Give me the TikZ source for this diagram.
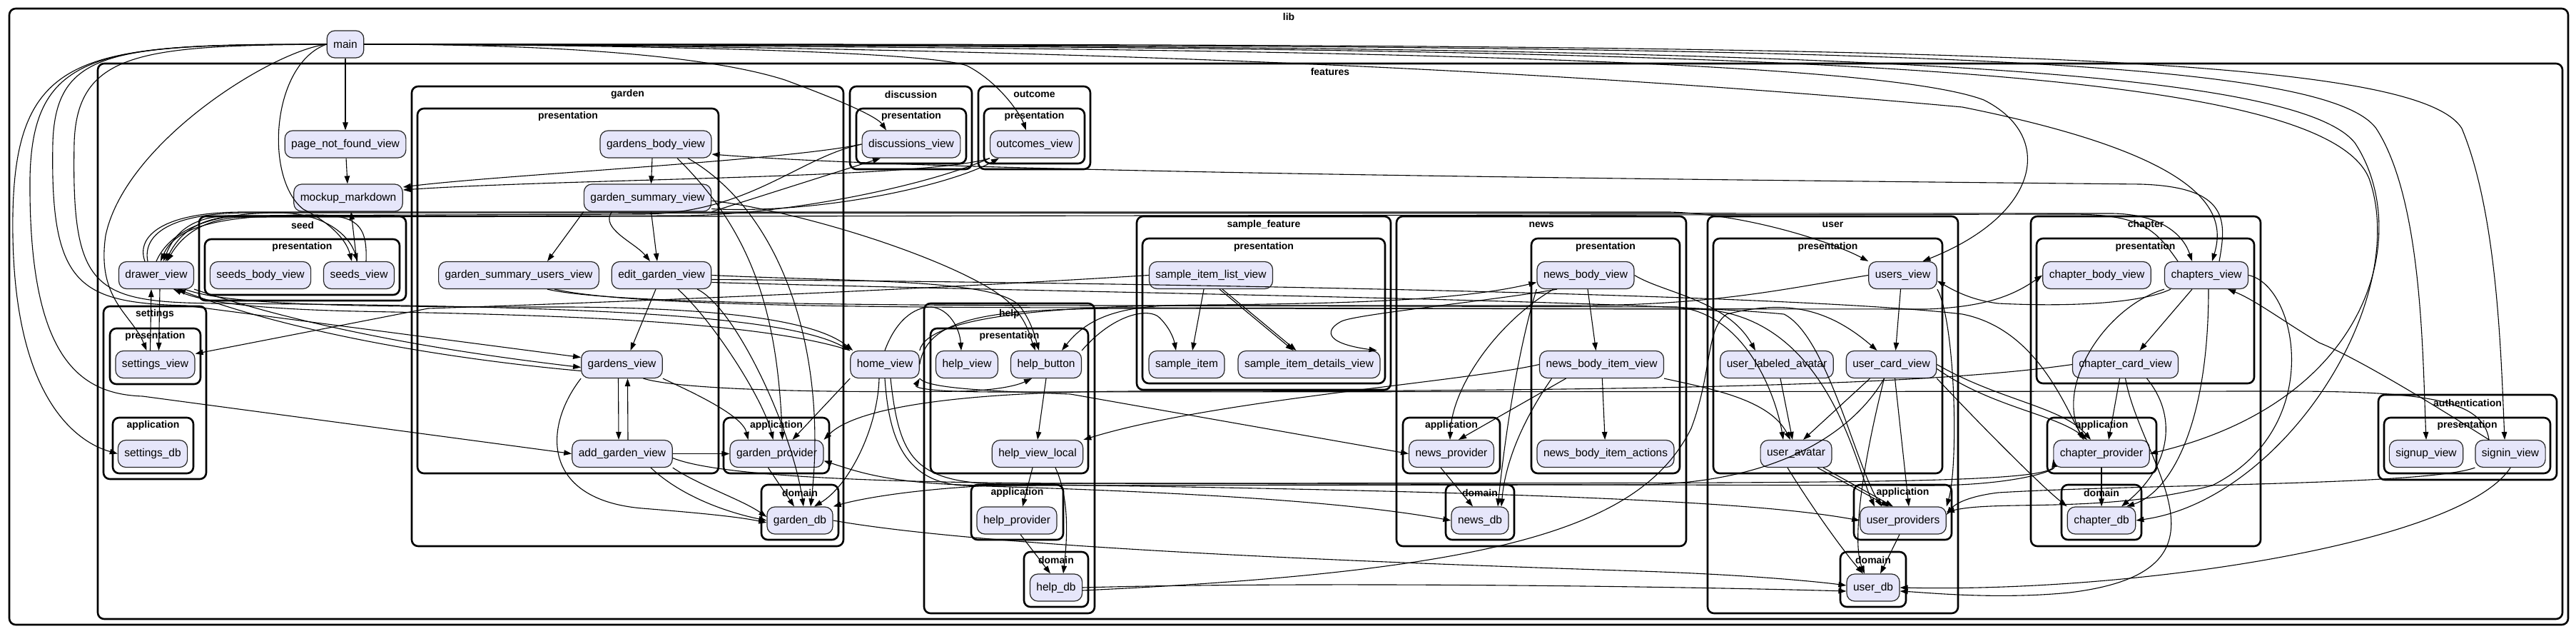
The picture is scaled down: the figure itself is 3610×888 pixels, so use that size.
\documentclass[tikz,border=0pt]{standalone}
\usepackage{fontspec}
\setmainfont{Liberation Sans}
\usetikzlibrary{arrows.meta}
\definecolor{lav}{HTML}{E6E6FA}
\begin{document}
\begin{tikzpicture}[x=1pt,y=-1pt,
 nd/.style={draw=black!85, line width=1.2pt, fill=lav, rounded corners=11pt, minimum height=38pt, inner xsep=9pt, inner ysep=0pt, font=\fontsize{15.5}{18}\selectfont},
 cl/.style={draw, line width=2.6pt, rounded corners=9pt},
 cll/.style={font=\bfseries\fontsize{14}{16}\selectfont, inner sep=0pt},
 e/.style={line width=1.1pt, -{Triangle[length=11pt,width=7.5pt]}},
]
\fill[white] (0,0) rectangle (3610,888);
\useasboundingbox (0,0) rectangle (3610,888);
% clusters
\draw[cl] (13,12) rectangle (3599,875); \node[cll] (Llib) at (1806,23) {lib};
\draw[cl] (137,89) rectangle (3591,867); \node[cll] (Lfeat) at (1864,100) {features};
\draw[cl] (577,121) rectangle (1182,765); \node[cll] (Lgarden) at (879.5,132) {garden};
\draw[cl] (585,152) rectangle (1007,663); \node[cll] (Lgardenpres) at (796,163) {presentation};
\draw[cl] (1014,585) rectangle (1162,663); \node[cll] (Lgardenapp) at (1088,596) {application};
\draw[cl] (1067,679) rectangle (1175,756); \node[cll] (Lgardendom) at (1121,690) {domain};
\draw[cl] (279,303) rectangle (569,421); \node[cll] (Lseed) at (424,315) {seed};
\draw[cl] (287,335) rectangle (560,413); \node[cll] (Lseedpres) at (423.5,346) {presentation};
\draw[cl] (145,429) rectangle (289,671); \node[cll] (Lsettings) at (217,440) {settings};
\draw[cl] (154,460) rectangle (281,538); \node[cll] (Lsetpres) at (217.5,471) {presentation};
\draw[cl] (158,585) rectangle (271,663); \node[cll] (Lsetapp) at (214.5,596) {application};
\draw[cl] (1191,121) rectangle (1362,237); \node[cll] (Ldisc) at (1276.5,132) {discussion};
\draw[cl] (1200,152) rectangle (1354,229); \node[cll] (Ldiscpres) at (1277,163) {presentation};
\draw[cl] (1371,121) rectangle (1528,237); \node[cll] (Lout) at (1449.5,132) {outcome};
\draw[cl] (1379,152) rectangle (1520,229); \node[cll] (Loutpres) at (1449.5,163) {presentation};
\draw[cl] (1295,425) rectangle (1534,859); \node[cll] (Lhelp) at (1414.5,440) {help};
\draw[cl] (1304,460) rectangle (1525,663); \node[cll] (Lhelppres) at (1414.5,471) {presentation};
\draw[cl] (1361,679) rectangle (1490,756); \node[cll] (Lhelpapp) at (1425.5,690) {application};
\draw[cl] (1435,773) rectangle (1525,850); \node[cll] (Lhelpdom) at (1480,784) {domain};
\draw[cl] (1593,303) rectangle (1949,546); \node[cll] (Lsample) at (1771,315) {sample\_feature};
\draw[cl] (1601,334) rectangle (1941,537); \node[cll] (Lsamplepres) at (1771,346) {presentation};
\draw[cl] (1957,303) rectangle (2363,765); \node[cll] (Lnews) at (2160,315) {news};
\draw[cl] (2146,334) rectangle (2354,663); \node[cll] (Lnewspres) at (2250,346) {presentation};
\draw[cl] (1966,585) rectangle (2102,663); \node[cll] (Lnewsapp) at (2034,596) {application};
\draw[cl] (2026,679) rectangle (2122,756); \node[cll] (Lnewsdom) at (2074,690) {domain};
\draw[cl] (2393,303) rectangle (2744,859); \node[cll] (Luser) at (2568.5,315) {user};
\draw[cl] (2401,334) rectangle (2722,663); \node[cll] (Luserpres) at (2561.5,346) {presentation};
\draw[cl] (2598,679) rectangle (2735,756); \node[cll] (Luserapp) at (2666.5,690) {application};
\draw[cl] (2579,773) rectangle (2671,850); \node[cll] (Luserdom) at (2625,784) {domain};
\draw[cl] (2846,303) rectangle (3168,765); \node[cll] (Lchapter) at (3007,315) {chapter};
\draw[cl] (2854,334) rectangle (3159,537); \node[cll] (Lchapterpres) at (3006.5,346) {presentation};
\draw[cl] (2869,585) rectangle (3022,663); \node[cll] (Lchapterapp) at (2945.5,596) {application};
\draw[cl] (2889,679) rectangle (3001,756); \node[cll] (Lchapterdom) at (2945,690) {domain};
\draw[cl] (3333,553) rectangle (3583,672); \node[cll] (Lauth) at (3458,564) {authentication};
\draw[cl] (3341,585) rectangle (3574,663); \node[cll] (Lauthpres) at (3457.5,596) {presentation};
% nodes
\node[nd] (main) at (484,62) {main};
\node[nd] (pnf) at (484,202) {page\_not\_found\_view};
\node[nd] (mock) at (488,277) {mockup\_markdown};
\node[nd] (drawerv) at (219,385.5) {drawer\_view};
\node[nd] (seedsbody) at (365,385.5) {seeds\_body\_view};
\node[nd] (seedsv) at (503,385.5) {seeds\_view};
\node[nd] (gsu) at (727,385.5) {garden\_summary\_users\_view};
\node[nd] (gardensbody) at (919,202) {gardens\_body\_view};
\node[nd] (gsum) at (907.5,277) {garden\_summary\_view};
\node[nd] (editg) at (927,385.5) {edit\_garden\_view};
\node[nd] (gardensv) at (871.5,510.5) {gardens\_view};
\node[nd] (addg) at (872,635.5) {add\_garden\_view};
\node[nd] (gardenp) at (1088.5,635.5) {garden\_provider};
\node[nd] (gardendb) at (1121,729) {garden\_db};
\node[nd] (settingsv) at (217.5,510.5) {settings\_view};
\node[nd] (settingsdb) at (214,635.5) {settings\_db};
\node[nd] (homev) at (1240,510.5) {home\_view};
\node[nd] (helpv) at (1355,510.5) {help\_view};
\node[nd] (helpb) at (1466,510.5) {help\_button};
\node[nd] (helpvl) at (1454,635.5) {help\_view\_local};
\node[nd] (helpp) at (1425,729) {help\_provider};
\node[nd] (helpdb) at (1480,823) {help\_db};
\node[nd] (discv) at (1277,202) {discussions\_view};
\node[nd] (outv) at (1450,202) {outcomes\_view};
\node[nd] (samplelist) at (1697,385.5) {sample\_item\_list\_view};
\node[nd] (sampleitem) at (1663,510.5) {sample\_item};
\node[nd] (sampledet) at (1834.5,510.5) {sample\_item\_details\_view};
\node[nd] (newsbody) at (2222,385.5) {news\_body\_view};
\node[nd] (newsitem) at (2244.5,510.5) {news\_body\_item\_view};
\node[nd] (newsprov) at (2034,635.5) {news\_provider};
\node[nd] (newsact) at (2250,635.5) {news\_body\_item\_actions};
\node[nd] (newsdb) at (2074,729) {news\_db};
\node[nd] (usersv) at (2666.5,385.5) {users\_view};
\node[nd] (userlab) at (2490,510.5) {user\_labeled\_avatar};
\node[nd] (usercard) at (2650.5,510.5) {user\_card\_view};
\node[nd] (useravatar) at (2517,635.5) {user\_avatar};
\node[nd] (userp) at (2667,729) {user\_providers};
\node[nd] (userdb) at (2625,823) {user\_db};
\node[nd] (chapterbody) at (2938.5,385.5) {chapter\_body\_view};
\node[nd] (chaptersv) at (3092,385.5) {chapters\_view};
\node[nd] (chaptercard) at (2978.5,510.5) {chapter\_card\_view};
\node[nd] (chapterp) at (2945,635.5) {chapter\_provider};
\node[nd] (chapterdb) at (2945,729) {chapter\_db};
\node[nd] (signupv) at (3400,635.5) {signup\_view};
\node[nd] (signinv) at (3518,635.5) {signin\_view};
% ---------- edges from main
\draw[e] (main) -- (pnf);
\draw[e] (main.west) .. controls (380,72) and (175,200) .. (148,330) .. controls (135,420) and (185,440) .. ([xshift=-12pt]settingsv.north);
\draw[e] (main.west) .. controls (120,62) and (22,70) .. (18,300) .. controls (14,560) and (110,620) .. (settingsdb.west);
\draw[e] (main.west) .. controls (140,62) and (45,70) .. (42,250) .. controls (40,500) and (110,552) .. (200,555) -- (addg.west);
\draw[e] (main.west) .. controls (160,63) and (78,68) .. (74,200) .. controls (70,400) and (110,424) .. (260,428) -- ([yshift=10pt]gardensv.west);
\draw[e] (main.west) .. controls (200,64) and (108,72) .. (104,200) .. controls (100,405) and (130,423) .. (300,425) .. controls (800,428) and (1100,440) .. (homev.north west);
\draw[e] (main.west) .. controls (380,90) and (370,250) .. (425,293) .. controls (462,312) and (485,335) .. ([xshift=-10pt]seedsv.north);
\draw[e] (main.east) .. controls (800,62) and (1000,80) .. (1100,112) .. controls (1190,145) and (1230,165) .. ([xshift=-35pt]discv.north);
\draw[e] (main.east) .. controls (900,63) and (1300,72) .. (1355,92) .. controls (1400,115) and (1430,160) .. ([xshift=-12pt]outv.north);
\draw[e] (main.east) .. controls (1500,66) and (2600,72) .. (2780,140) .. controls (2880,190) and (2860,300) .. ([xshift=28pt]usersv.north);
\draw[e] (main.east) .. controls (1500,64) and (2200,100) .. (2750,150) .. controls (3100,220) and (3120,300) .. ([xshift=8pt]chaptersv.north);
\draw[e] (main.east) .. controls (2500,62) and (3250,70) .. (3330,180) .. controls (3395,280) and (3395,500) .. (signupv.north);
\draw[e] (main.east) .. controls (2600,61) and (3380,66) .. (3450,180) .. controls (3500,300) and (3505,500) .. ([xshift=-8pt]signinv.north);
\draw[e] (main.east) .. controls (2300,63) and (3200,75) .. (3300,200) .. controls (3380,320) and (3330,560) .. (chapterp.east);
\draw[e] (main.east) .. controls (2400,65) and (3250,80) .. (3320,250) .. controls (3380,420) and (3200,700) .. (chapterdb.east);
% ---------- drawer
\draw[e] ([xshift=5pt]drawerv.south) -- ([xshift=5pt]settingsv.north);
\draw[e] ([xshift=-7pt]settingsv.north) -- ([xshift=-7pt]drawerv.south);
\draw[e] (drawerv.south east) .. controls (450,465) and (650,495) .. ([yshift=-4pt]gardensv.west);
\draw[e] ([yshift=-9pt]gardensv.west) .. controls (650,505) and (420,470) .. ([xshift=30pt]drawerv.south);
\draw[e] (homev.north west) .. controls (1050,445) and (700,440) .. (500,436) .. controls (330,432) and (280,420) .. ([xshift=24pt]drawerv.south);
\draw[e] ([xshift=40pt]drawerv.south) .. controls (320,428) and (500,430) .. (800,430) .. controls (1050,432) and (1150,455) .. ([xshift=4pt]homev.north west);
\draw[e] (drawerv.north) .. controls (235,330) and (280,298) .. (390,298) .. controls (455,298) and (490,330) .. ([xshift=-2pt]seedsv.north);
\draw[e] ([xshift=10pt]seedsv.north) .. controls (515,315) and (500,301) .. (440,301) .. controls (300,301) and (245,320) .. ([xshift=6pt]drawerv.north);
\draw[e] (discv.west) .. controls (1120,220) and (1050,299) .. (900,300) -- (320,302) .. controls (270,304) and (245,325) .. ([xshift=10pt]drawerv.north);
\draw[e] (outv.south west) .. controls (1300,260) and (1100,302) .. (950,302) -- (330,303) .. controls (275,305) and (250,330) .. ([xshift=13pt]drawerv.north);
\draw[e] ([xshift=-40pt]chaptersv.north) .. controls (3020,320) and (3000,300) .. (2900,300) -- (340,304) .. controls (280,306) and (252,335) .. ([xshift=15pt]drawerv.north);
\draw[e] ([xshift=-16pt]drawerv.north) .. controls (190,330) and (230,297) .. (340,297) -- (2340,297) .. controls (2450,300) and (2570,340) .. (usersv.north west);
\draw[e] ([xshift=-12pt]drawerv.north) .. controls (200,330) and (235,298) .. (350,298) -- (2960,299) .. controls (3030,300) and (3060,330) .. ([xshift=-20pt]chaptersv.north);
% ---------- garden
\draw[e] ([xshift=-5pt]gardensbody.south) -- ([xshift=5pt]gsum.north);
\draw[e] ([xshift=30pt]gardensbody.south) .. controls (1060,330) and (1090,450) .. ([xshift=8pt]gardenp.north);
\draw[e] ([xshift=45pt]gardensbody.south) .. controls (1100,300) and (1160,500) .. ([xshift=15pt]gardendb.north);
\draw[e] (gsum.south west) -- ([xshift=40pt]gsu.north);
\draw[e] ([xshift=5pt]gsum.south) -- ([xshift=-6pt]editg.north);
\draw[e] ([xshift=-50pt]gsum.south) .. controls (840,320) and (890,340) .. ([xshift=-16pt]editg.north);
\draw[e] (gsum.south east) -- ([xshift=-43pt]discv.south);
\draw[e] ([yshift=4pt]gsum.south east) .. controls (1150,300) and (1330,260) .. ([xshift=-50pt]outv.south);
\draw[e] (discv.west) .. controls (1100,225) and (700,245) .. ([yshift=15pt]mock.east);
\draw[e] (outv.south west) .. controls (1300,250) and (800,250) .. ([yshift=11pt]mock.east);
\draw[e] (pnf) -- (mock);
\draw[e] ([xshift=-3pt]seedsv.north) -- ([xshift=4pt]mock.south);
\draw[e] ([xshift=-8pt]editg.south) -- ([xshift=12pt]gardensv.north);
\draw[e] ([xshift=23pt]editg.south) .. controls (1000,450) and (1070,560) .. ([xshift=-5pt]gardenp.north);
\draw[e] ([xshift=50pt]editg.south) .. controls (1030,430) and (1110,600) .. ([xshift=5pt]gardendb.north);
\draw[e] (editg.east) .. controls (1200,395) and (1400,390) .. (1430,430) .. controls (1445,450) and (1450,470) .. ([xshift=-10pt]helpb.north);
\draw[e] ([yshift=-4pt]gsum.east) .. controls (1150,300) and (1380,380) .. (1420,430) .. controls (1440,452) and (1443,470) .. ([xshift=-15pt]helpb.north);
\draw[e] ([yshift=-6pt]editg.east) .. controls (1500,395) and (2500,410) .. (2750,440) .. controls (2850,460) and (2890,560) .. ([xshift=-25pt]chapterp.north);
\draw[e] ([yshift=-10pt]editg.east) .. controls (1500,410) and (2300,420) .. (2500,440) .. controls (2560,470) and (2600,650) .. ([xshift=-30pt]userp.north);
\draw[e] ([xshift=-5pt]gardensv.south) -- ([xshift=-5pt]addg.north);
\draw[e] ([xshift=8pt]addg.north) -- ([xshift=8pt]gardensv.south);
\draw[e] (gardensv.south east) .. controls (960,545) and (1040,580) .. ([xshift=-40pt]gardenp.north);
\draw[e] (gardensv.south west) .. controls (760,600) and (760,700) .. (900,712) .. controls (1000,720) and (1040,725) .. ([yshift=-3pt]gardendb.west);
\draw[e] ([xshift=30pt]gardensv.south) .. controls (960,548) and (1200,550) .. (1350,548) .. controls (1400,546) and (1425,540) .. ([xshift=-20pt]helpb.south);
\draw[e] (addg.east) -- (gardenp.west);
\draw[e] (addg.south east) .. controls (980,680) and (1040,700) .. ([yshift=5pt]gardendb.west);
\draw[e] ([xshift=40pt]addg.south) .. controls (960,700) and (1030,720) .. ([yshift=0pt]gardendb.west);
\draw[e] ([yshift=-6pt]addg.east) .. controls (1000,665) and (1200,676) .. (1500,677) -- (2700,680) .. controls (2820,680) and (2880,660) .. ([yshift=-8pt]chapterp.west);
\draw[e] ([xshift=-12pt]gardenp.south) -- ([xshift=-8pt]gardendb.north);
\draw[e] ([xshift=40pt]gsu.south) .. controls (850,425) and (1200,428) .. (1600,428) -- (2350,430) .. controls (2450,440) and (2490,560) .. ([xshift=-18pt]useravatar.north);
\draw[e] ([xshift=50pt]gsu.south) .. controls (880,428) and (1200,431) .. (1600,431) -- (2380,433) .. controls (2560,440) and (2600,650) .. ([xshift=-40pt]userp.north);
\draw[e] ([xshift=18pt]chaptersv.north) .. controls (3120,310) and (3125,262) .. (3000,258) .. controls (2200,250) and (1300,240) .. ([yshift=-14pt]gardensbody.east);
\draw[e] (gardendb.east) .. controls (1400,770) and (2000,790) .. (2300,800) .. controls (2450,805) and (2550,815) .. ([yshift=3pt]userdb.west);
% ---------- home / help
\draw[e] (homev.north) .. controls (1255,450) and (1280,430) .. (1305,430) .. controls (1330,432) and (1345,460) .. ([xshift=-8pt]helpv.north);
\draw[e] (homev.south west) -- ([xshift=22pt]gardenp.north);
\draw[e] ([xshift=-8pt]homev.south) .. controls (1230,600) and (1190,680) .. ([xshift=20pt]gardendb.north);
\draw[e] (homev.south east) .. controls (1300,545) and (1400,548) .. (1500,552) -- (newsprov.west);
\draw[e] (homev.south) .. controls (1245,600) and (1260,675) .. (1350,680) .. controls (1700,690) and (1900,705) .. (newsdb.west);
\draw[e] ([xshift=8pt]homev.south) .. controls (1260,640) and (1280,675) .. (1400,678) .. controls (2300,690) and (2500,710) .. (userp.west);
\draw[e] (homev.north east) .. controls (1300,440) and (1500,428) .. (1700,427) .. controls (1900,425) and (2050,420) .. ([yshift=-10pt]newsbody.west);
\draw[e] ([xshift=-30pt]signinv.north) .. controls (3480,560) and (3400,548) .. (3200,548) -- (1400,549) .. controls (1320,549) and (1280,545) .. (homev.south east);
\draw[e] (helpb.south) -- (helpvl.north);
\draw[e] ([xshift=-7pt]helpvl.south) -- ([xshift=8pt]helpp.north);
\draw[e] ([xshift=25pt]helpvl.south) .. controls (1500,700) and (1495,760) .. ([xshift=10pt]helpdb.north);
\draw[e] ([xshift=5pt]helpp.south) -- ([xshift=-8pt]helpdb.north);
\draw[e] (helpdb.east) .. controls (1800,815) and (2300,820) .. ([yshift=-5pt]userdb.west);
\draw[e] ([yshift=-4pt]helpdb.east) .. controls (2100,800) and (2300,740) .. (2370,600) .. controls (2400,520) and (2390,460) .. (2420,440) .. controls (2500,420) and (2560,430) .. ([xshift=-20pt]usercard.north);
\draw[e] (usersv.west) .. controls (2500,405) and (2400,428) .. (2200,428) -- (1640,428) .. controls (1560,430) and (1520,450) .. ([xshift=22pt]helpb.north);
% ---------- sample
\draw[e] ([xshift=-10pt]samplelist.south) -- ([xshift=8pt]sampleitem.north);
\draw[e] ([xshift=12pt]samplelist.south) -- ([xshift=-22pt]sampledet.north);
\draw[e] ([xshift=16pt]samplelist.south) -- ([xshift=-18pt]sampledet.north);
\draw[e] (samplelist.west) .. controls (1300,405) and (900,422) .. (600,432) -- ([yshift=15pt]settingsv.east);
\draw[e] (helpb.north east) .. controls (1560,440) and (1610,430) .. (1625,445) .. controls (1640,460) and (1645,475) .. ([xshift=-15pt]sampleitem.north);
\draw[e] ([xshift=-40pt]newsbody.south) .. controls (2100,420) and (1900,440) .. (1880,450) .. controls (1860,460) and (1850,480) .. ([xshift=-5pt]sampledet.north east);
% ---------- news
\draw[e] ([xshift=3pt]newsbody.south) -- ([xshift=-8pt]newsitem.north);
\draw[e] ([xshift=-45pt]newsbody.south) .. controls (2100,450) and (2035,540) .. ([xshift=-2pt]newsprov.north);
\draw[e] (newsbody.south west) .. controls (2130,480) and (2110,600) .. ([xshift=25pt]newsdb.north);
\draw[e] (newsitem) -- (newsact);
\draw[e] ([xshift=-50pt]newsitem.south) -- ([xshift=10pt]newsprov.north);
\draw[e] ([xshift=-70pt]newsitem.south) .. controls (2140,580) and (2110,640) .. ([xshift=30pt]newsdb.north);
\draw[e] (newsitem.west) .. controls (2050,535) and (1700,560) .. (helpvl.north east);
\draw[e] (newsbody.east) .. controls (2330,410) and (2420,420) .. ([xshift=-30pt]userlab.north);
\draw[e] (newsitem.south east) .. controls (2400,545) and (2480,560) .. ([xshift=-8pt]useravatar.north);
\draw[e] ([xshift=-15pt]newsprov.south) -- ([xshift=-10pt]newsdb.north);
% ---------- user
\draw[e] ([xshift=-3pt]usersv.south) -- ([xshift=6pt]usercard.north);
\draw[e] ([xshift=5pt]userlab.south) -- ([xshift=-5pt]useravatar.north);
\draw[e] ([xshift=-30pt]usercard.south) -- ([xshift=10pt]useravatar.north);
\draw[e] ([xshift=5pt]usercard.south) -- ([xshift=8pt]userp.north);
\draw[e] ([xshift=-10pt]usercard.south) .. controls (2610,650) and (2595,760) .. ([xshift=-12pt]userdb.north);
\draw[e] (usercard.east) .. controls (2800,560) and (2890,570) .. ([xshift=-15pt]chapterp.north);
\draw[e] ([yshift=-6pt]usercard.east) .. controls (2790,570) and (2880,580) .. ([xshift=-20pt]chapterp.north);
\draw[e] (usercard.south east) .. controls (2780,600) and (2860,680) .. (chapterdb.north west);
\draw[e] ([xshift=-10pt]usercard.south) .. controls (2600,600) and (2500,676) .. (2300,679) -- (1400,680) .. controls (1250,680) and (1200,660) .. ([yshift=-10pt]gardenp.east);
\draw[e] ([xshift=30pt]useravatar.south) -- ([xshift=-20pt]userp.north);
\draw[e] ([xshift=38pt]useravatar.south) -- ([xshift=-14pt]userp.north);
\draw[e] ([xshift=-12pt]useravatar.south) .. controls (2545,720) and (2590,780) .. ([xshift=-14pt]userdb.north);
\draw[e] ([xshift=-5pt]userp.south) -- ([xshift=10pt]userdb.north);
\draw[e] (usersv.south east) .. controls (2740,450) and (2745,650) .. (userp.north east);
\draw[e] (signinv.south west) .. controls (3400,680) and (3000,678) .. (2800,690) .. controls (2760,695) and (2740,705) .. ([yshift=8pt]userp.east);
\draw[e] (signinv.south) .. controls (3450,760) and (3000,830) .. (userdb.east);
% ---------- chapter
\draw[e] ([xshift=-20pt]chaptersv.south) -- ([xshift=20pt]chaptercard.north);
\draw[e] ([xshift=3pt]chaptersv.south) .. controls (3095,600) and (3040,690) .. ([xshift=35pt]chapterdb.north);
\draw[e] (chaptersv.south west) .. controls (2950,430) and (2880,540) .. ([xshift=-25pt]chapterp.north);
\draw[e] ([xshift=-8pt]chaptercard.south) -- ([xshift=10pt]chapterp.north);
\draw[e] ([xshift=30pt]chaptercard.south) .. controls (3050,580) and (3045,650) .. ([xshift=28pt]chapterdb.north);
\draw[e] (chaptercard.west) .. controls (2700,540) and (2300,548) .. (1600,548) .. controls (1350,548) and (1200,570) .. (gardenp.north east);
\draw[e] (chapterp.south west) .. controls (2850,680) and (2500,676) .. (1500,677) .. controls (1300,678) and (1200,700) .. (gardendb.north east);
\draw[e] (chapterp) -- (chapterdb);
\draw[e] (homev.east) .. controls (1300,440) and (1400,432) .. (1600,432) -- (2700,433) .. controls (2780,430) and (2820,415) .. (chapterbody.west);
\draw[e] ([xshift=-50pt]chaptersv.south) .. controls (3000,425) and (2900,430) .. (2800,425) .. controls (2760,420) and (2735,405) .. ([yshift=-8pt]usersv.east);
\draw[e] ([xshift=-30pt]signinv.north) .. controls (3400,560) and (3300,500) .. (3250,480) .. controls (3200,450) and (3160,420) .. ([xshift=30pt]chaptersv.south);
\draw[e] (chaptersv.east) .. controls (3220,400) and (3260,600) .. (3100,680) .. controls (2950,720) and (2800,700) .. ([yshift=12pt]userp.east);
\draw[e] (chaptercard.south) .. controls (3000,650) and (3150,800) .. (2900,830) .. controls (2800,840) and (2700,830) .. ([yshift=-5pt]userdb.east);
\end{tikzpicture}
\end{document}
